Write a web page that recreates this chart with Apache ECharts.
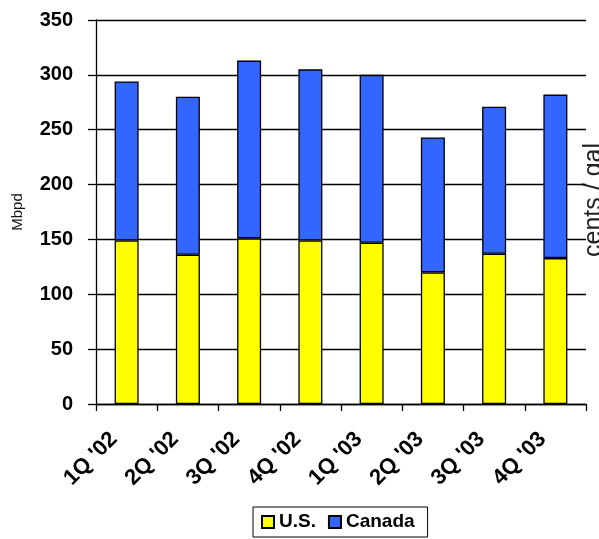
<!DOCTYPE html>
<html>
<head>
<meta charset="utf-8">
<script src="https://cdn.jsdelivr.net/npm/echarts@6/dist/echarts.min.js"></script>
<style>
  html, body { margin: 0; padding: 0; background: #fff; }
  #chart { width: 599px; height: 539px; }
</style>
</head>
<body>
<div id="chart"></div>
<script>
// Quarterly volumes, Mbpd
const quarters = ["1Q '02", "2Q '02", "3Q '02", "4Q '02", "1Q '03", "2Q '03", "3Q '03", "4Q '03"];
const usValues = [149, 136, 151, 149, 147, 120, 137, 133];
const canadaValues = [145, 144, 162, 156, 153, 123, 134, 149];
const yTicks = [0, 50, 100, 150, 200, 250, 300, 350];

const FONT = '"Liberation Sans", Arial, sans-serif';
const chart = echarts.init(document.getElementById('chart'), null, { renderer: 'canvas' });

const barStyle = (color) => ({ color: color, borderColor: '#000', borderWidth: 1.3 });

chart.setOption({
  backgroundColor: '#fff',
  animation: false,
  grid: { left: 96, right: 13, top: 20, bottom: 135, containLabel: false, outerBoundsMode: 'none' },
  legend: {
    left: 253, top: 507,
    padding: [5, 13, 5, 8],
    borderColor: '#000', borderWidth: 1,
    itemWidth: 12, itemHeight: 12, itemGap: 12,
    icon: 'rect',
    textStyle: { fontFamily: FONT, fontWeight: 'bold', fontSize: 19, lineHeight: 20, color: '#000' },
    data: ['U.S.', 'Canada']
  },
  xAxis: {
    type: 'category',
    data: quarters,
    boundaryGap: true,
    axisLine: { lineStyle: { color: '#000', width: 1.3 } },
    axisTick: { show: true, length: 7, lineStyle: { color: '#000', width: 1.3 } },
    axisLabel: {
      rotate: 45, margin: 19, interval: 0,
      padding: [0, 18, 0, 0],
      fontFamily: FONT, fontWeight: 'bold', fontSize: 22, color: '#000'
    },
    splitLine: { show: false }
  },
  yAxis: {
    type: 'value',
    min: yTicks[0], max: yTicks[yTicks.length - 1], interval: yTicks[1] - yTicks[0],
    name: 'Mbpd', nameLocation: 'middle', nameRotate: 90, nameGap: 71,
    nameTextStyle: { fontFamily: FONT, fontSize: 15, color: '#111' },
    axisLine: { show: true, lineStyle: { color: '#000', width: 1.3 } },
    axisTick: { show: true, length: 8, lineStyle: { color: '#000', width: 1.3 } },
    axisLabel: { margin: 23, fontFamily: FONT, fontWeight: 'bold', fontSize: 20, color: '#000' },
    splitLine: { show: true, lineStyle: { color: '#000', width: 1.3 } }
  },
  graphic: [{
    type: 'text',
    left: 582, top: 143,
    rotation: Math.PI / 2,
    originX: 0, originY: 0,
    style: { text: 'cents / gal', font: '25px ' + FONT, fill: '#222' }
  }],
  series: [
    { name: 'U.S.', type: 'bar', stack: 'total', data: usValues, barWidth: 24, itemStyle: barStyle('#FFFF00') },
    { name: 'Canada', type: 'bar', stack: 'total', data: canadaValues, barWidth: 24, itemStyle: barStyle('#3366FF') }
  ]
});
</script>
</body>
</html>
